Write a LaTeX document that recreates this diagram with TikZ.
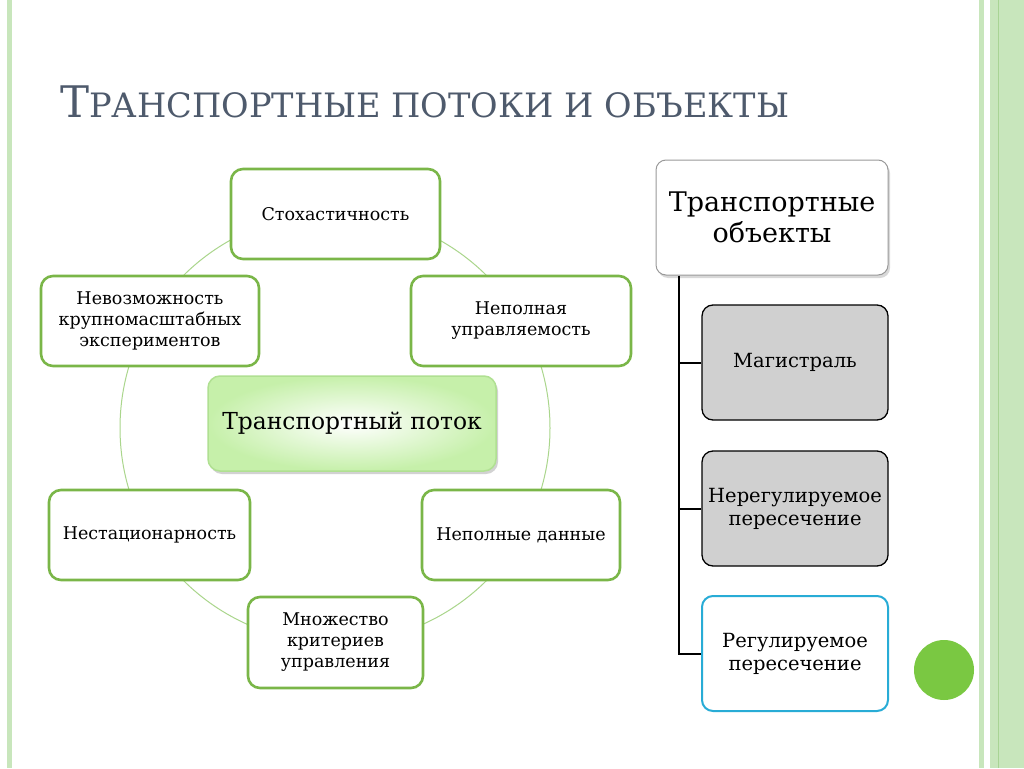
\documentclass[tikz,border=0pt]{standalone}
\usepackage{fontspec}
\setmainfont{DejaVu Serif}
\usetikzlibrary{shadows}
\definecolor{boxgreen}{RGB}{122,182,72}
\definecolor{ringgreen}{RGB}{170,214,140}
\definecolor{stripe}{RGB}{200,230,188}
\definecolor{stripedark}{RGB}{168,212,148}
\definecolor{titlecol}{RGB}{78,90,108}
\definecolor{centeredge}{RGB}{176,224,146}
\definecolor{centerfill}{RGB}{198,240,170}
\definecolor{graybox}{RGB}{208,208,208}
\definecolor{cyanedge}{RGB}{40,172,214}
\definecolor{dotgreen}{RGB}{122,200,66}
\tikzset{
  x=1pt, y=-1pt,
  gbox/.style={draw=boxgreen, line width=2.6pt, rounded corners=12pt, fill=white,
    align=center, font=\fontsize{17.5}{21}\selectfont, inner sep=2pt},
  cbox/.style={draw=centeredge, line width=1.5pt, rounded corners=12pt,
    inner color=white, outer color=centerfill, align=center,
    font=\fontsize{23.4}{27}\selectfont,
    drop shadow={opacity=0.35, shadow xshift=2pt, shadow yshift=-3pt}},
  objbox/.style={draw=black!40, line width=1pt, rounded corners=10pt, fill=white,
    align=center, font=\fontsize{27}{31}\selectfont,
    drop shadow={opacity=0.3, shadow xshift=2pt, shadow yshift=-3pt}},
  subbox/.style={draw=black, line width=1.3pt, rounded corners=11pt, fill=graybox,
    align=center, font=\fontsize{19.5}{23}\selectfont, inner sep=2pt,
    minimum width=186pt, minimum height=115pt},
  trunk/.style={draw=black, line width=2pt},
}
\begin{document}
\begin{tikzpicture}
\useasboundingbox (0,0) rectangle (1024,768);
\fill[white] (0,0) rectangle (1024,768);
% side stripes
\fill[stripe] (7,0) rectangle (12,768);
\fill[stripe] (979,0) rectangle (984,768);
\fill[stripe] (990,0) rectangle (1024,768);
\draw[stripedark, line width=1pt] (998,0) -- (998,768);
% title
\node[anchor=base west, inner sep=0, text=titlecol] (title) at (60,117)
  {\fontsize{43.5}{44}\selectfont Т\fontsize{33.6}{34}\selectfont РАНСПОРТНЫЕ ПОТОКИ И ОБЪЕКТЫ};
% ring
\draw[ringgreen, line width=1pt] (335,428) circle[radius=215];
% boxes around
\node[gbox, minimum width=209pt, minimum height=90pt] (sto) at (335.5,214) {Стохастичность};
\node[gbox, minimum width=220pt, minimum height=90pt] (nepu) at (521,321) {Неполная\\управляемость};
\node[gbox, minimum width=198pt, minimum height=90pt] (nepd) at (521,535) {Неполные данные};
\node[gbox, minimum width=175pt, minimum height=91pt] (mnoz) at (335.5,642.5) {Множество\\критериев\\управления};
\node[gbox, minimum width=201pt, minimum height=90pt] (nest) at (149.5,535) {Нестационарность};
\node[gbox, minimum width=218pt, minimum height=90pt] (nevo) at (150,321) {Невозможность\\крупномасштабных\\экспериментов};
\node[cbox, minimum width=288pt, minimum height=95pt] (flow) at (352,423.5) {Транспортный поток};
% right tree
\node[objbox, minimum width=232pt, minimum height=115pt] (obj) at (772,217.5) {Транспортные\\объекты};
\node[subbox] (mag) at (795,362.5) {Магистраль};
\node[subbox] (nereg) at (795,508.5) {Нерегулируемое\\пересечение};
\node[subbox, fill=white, draw=cyanedge, line width=2pt] (reg) at (795,653.5) {Регулируемое\\пересечение};
\coordinate (top) at ([xshift=23pt]obj.south west);
\draw[trunk] (top) |- (reg.west);
\draw[trunk] (mag.west) -- (mag.west -| top);
\draw[trunk] (nereg.west) -- (nereg.west -| top);
% dot
\fill[dotgreen] (944,670) circle[radius=30];
\end{tikzpicture}
\end{document}
